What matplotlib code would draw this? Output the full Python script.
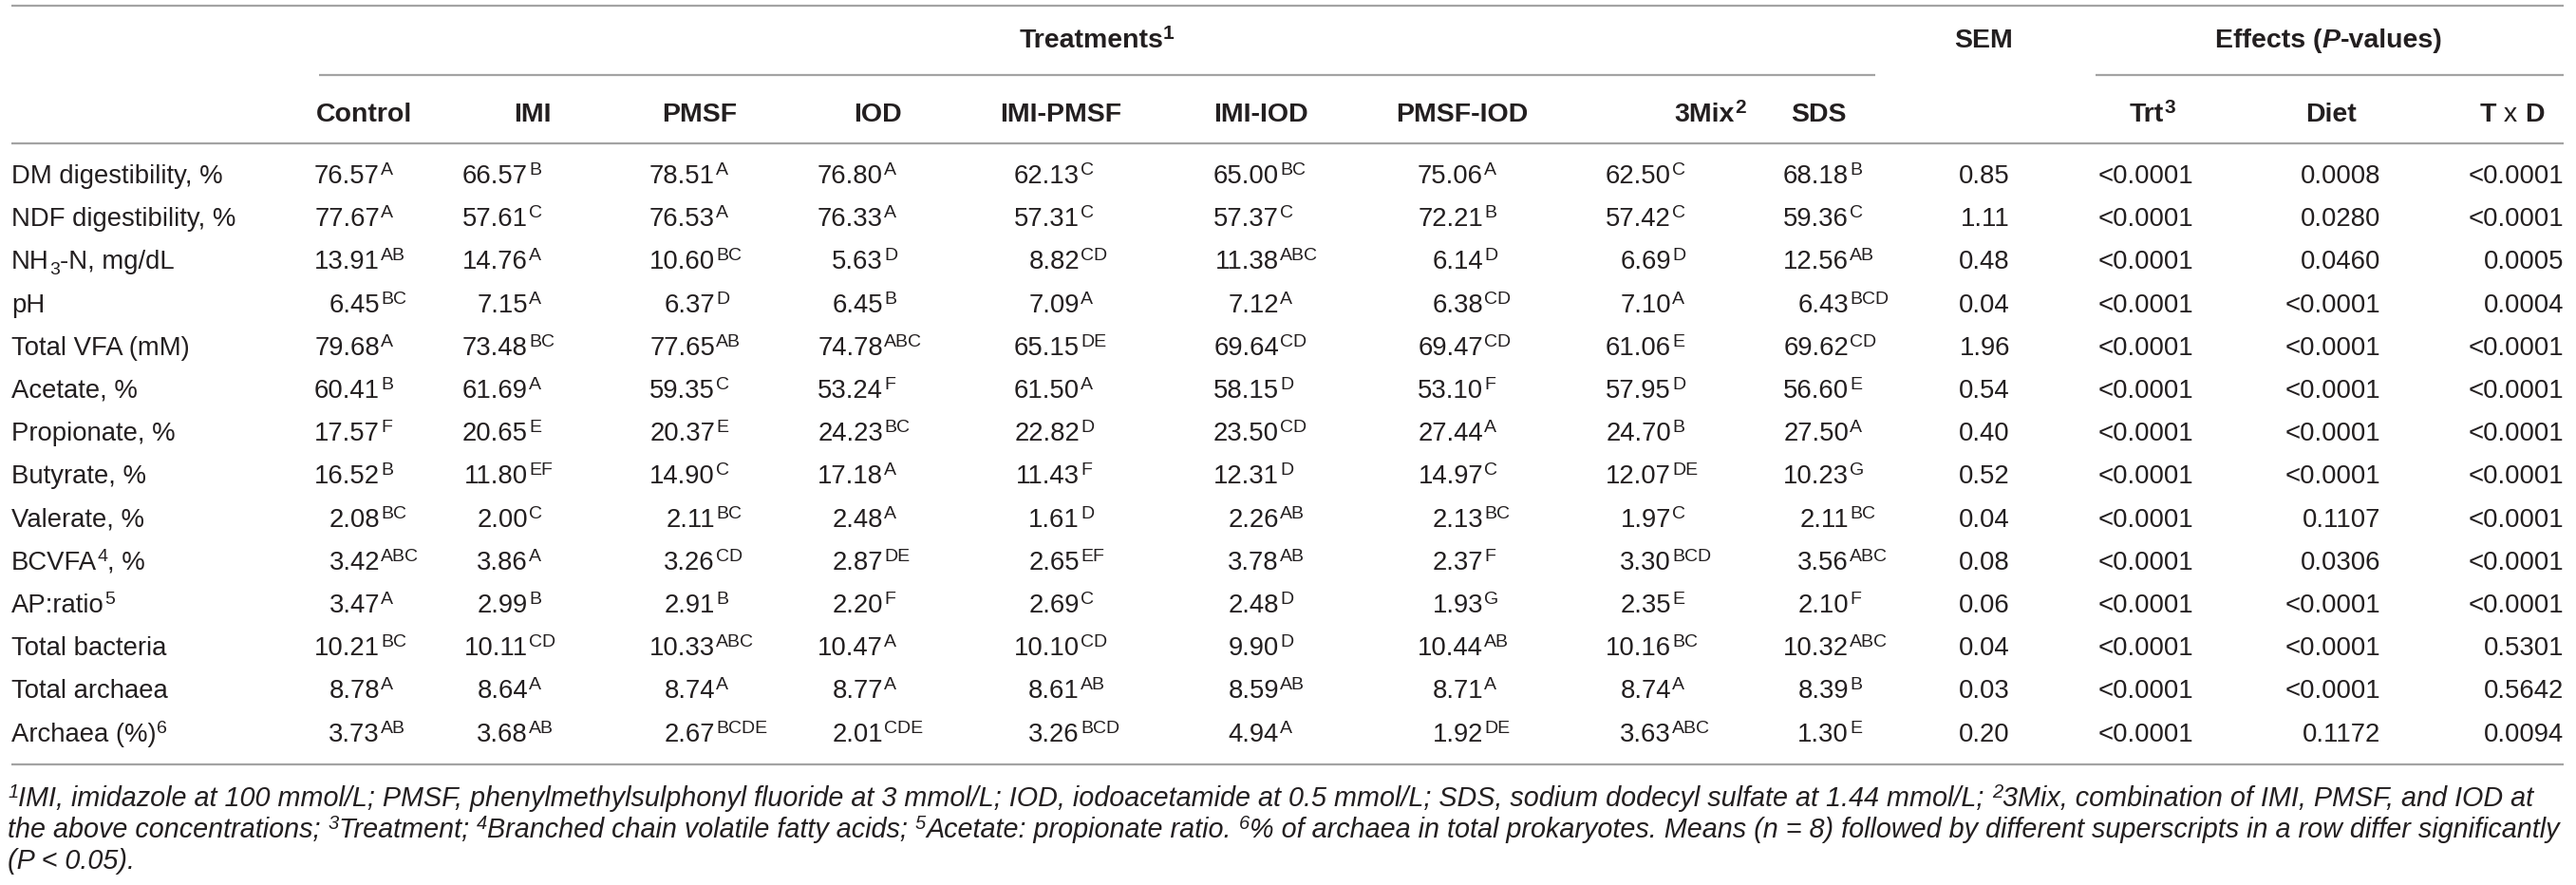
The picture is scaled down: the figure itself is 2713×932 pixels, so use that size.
import matplotlib
matplotlib.use('Agg')
import matplotlib.pyplot as plt

# ---------------- data ----------------
row_labels = [
    [("DM digestibility, %", "n")],
    [("NDF digestibility, %", "n")],
    [("NH", "n"), ("3", "sub"), ("-N, mg/dL", "n")],
    [("pH", "n")],
    [("Total VFA (mM)", "n")],
    [("Acetate, %", "n")],
    [("Propionate, %", "n")],
    [("Butyrate, %", "n")],
    [("Valerate, %", "n")],
    [("BCVFA", "n"), ("4", "sup"), (", %", "n")],
    [("AP:ratio", "n"), ("5", "sup")],
    [("Total bacteria", "n")],
    [("Total archaea", "n")],
    [("Archaea (%)", "n"), ("6", "sup")],
]

treatments = ["Control", "IMI", "PMSF", "IOD", "IMI-PMSF", "IMI-IOD", "PMSF-IOD", "3Mix", "SDS"]

control = [76.57, 77.67, 13.91, 6.45, 79.68, 60.41, 17.57, 16.52, 2.08, 3.42, 3.47, 10.21, 8.78, 3.73]
control_sig = ["A", "A", "AB", "BC", "A", "B", "F", "B", "BC", "ABC", "A", "BC", "A", "AB"]
imi = [66.57, 57.61, 14.76, 7.15, 73.48, 61.69, 20.65, 11.80, 2.00, 3.86, 2.99, 10.11, 8.64, 3.68]
imi_sig = ["B", "C", "A", "A", "BC", "A", "E", "EF", "C", "A", "B", "CD", "A", "AB"]
pmsf = [78.51, 76.53, 10.60, 6.37, 77.65, 59.35, 20.37, 14.90, 2.11, 3.26, 2.91, 10.33, 8.74, 2.67]
pmsf_sig = ["A", "A", "BC", "D", "AB", "C", "E", "C", "BC", "CD", "B", "ABC", "A", "BCDE"]
iod = [76.80, 76.33, 5.63, 6.45, 74.78, 53.24, 24.23, 17.18, 2.48, 2.87, 2.20, 10.47, 8.77, 2.01]
iod_sig = ["A", "A", "D", "B", "ABC", "F", "BC", "A", "A", "DE", "F", "A", "A", "CDE"]
imi_pmsf = [62.13, 57.31, 8.82, 7.09, 65.15, 61.50, 22.82, 11.43, 1.61, 2.65, 2.69, 10.10, 8.61, 3.26]
imi_pmsf_sig = ["C", "C", "CD", "A", "DE", "A", "D", "F", "D", "EF", "C", "CD", "AB", "BCD"]
imi_iod = [65.00, 57.37, 11.38, 7.12, 69.64, 58.15, 23.50, 12.31, 2.26, 3.78, 2.48, 9.90, 8.59, 4.94]
imi_iod_sig = ["BC", "C", "ABC", "A", "CD", "D", "CD", "D", "AB", "AB", "D", "D", "AB", "A"]
pmsf_iod = [75.06, 72.21, 6.14, 6.38, 69.47, 53.10, 27.44, 14.97, 2.13, 2.37, 1.93, 10.44, 8.71, 1.92]
pmsf_iod_sig = ["A", "B", "D", "CD", "CD", "F", "A", "C", "BC", "F", "G", "AB", "A", "DE"]
mix3 = [62.50, 57.42, 6.69, 7.10, 61.06, 57.95, 24.70, 12.07, 1.97, 3.30, 2.35, 10.16, 8.74, 3.63]
mix3_sig = ["C", "C", "D", "A", "E", "D", "B", "DE", "C", "BCD", "E", "BC", "A", "ABC"]
sds = [68.18, 59.36, 12.56, 6.43, 69.62, 56.60, 27.50, 10.23, 2.11, 3.56, 2.10, 10.32, 8.39, 1.30]
sds_sig = ["B", "C", "AB", "BCD", "CD", "E", "A", "G", "BC", "ABC", "F", "ABC", "B", "E"]

sem = [0.85, 1.11, 0.48, 0.04, 1.96, 0.54, 0.40, 0.52, 0.04, 0.08, 0.06, 0.04, 0.03, 0.20]
p_trt = ["<0.0001"] * 14
p_diet = ["0.0008", "0.0280", "0.0460", "<0.0001", "<0.0001", "<0.0001", "<0.0001", "<0.0001",
          "0.1107", "0.0306", "<0.0001", "<0.0001", "<0.0001", "0.1172"]
p_txd = ["<0.0001", "<0.0001", "0.0005", "0.0004", "<0.0001", "<0.0001", "<0.0001", "<0.0001",
         "<0.0001", "<0.0001", "<0.0001", "0.5301", "0.5642", "0.0094"]

means = [control, imi, pmsf, iod, imi_pmsf, imi_iod, pmsf_iod, mix3, sds]
sigs = [control_sig, imi_sig, pmsf_sig, iod_sig, imi_pmsf_sig, imi_iod_sig, pmsf_iod_sig, mix3_sig, sds_sig]

footnotes = [
    [("1", "sup"), ("IMI, imidazole at 100 mmol/L; PMSF, phenylmethylsulphonyl fluoride at 3 mmol/L; IOD, iodoacetamide at 0.5 mmol/L; SDS, sodium dodecyl sulfate at 1.44 mmol/L; ", "n"),
     ("2", "sup"), ("3Mix, combination of IMI, PMSF, and IOD at", "n")],
    [("the above concentrations; ", "n"), ("3", "sup"), ("Treatment; ", "n"), ("4", "sup"),
     ("Branched chain volatile fatty acids; ", "n"), ("5", "sup"), ("Acetate: propionate ratio. ", "n"),
     ("6", "sup"), ("% of archaea in total prokaryotes. Means (n = 8) followed by different superscripts in a row differ significantly", "n")],
    [("(P < 0.05).", "n")],
]

# ---------------- layout ----------------
W, H, DPI = 2713, 932, 100
fig = plt.figure(figsize=(W / DPI, H / DPI), dpi=DPI)
ax = fig.add_axes([0, 0, 1, 1])
ax.set_xlim(0, W)
ax.set_ylim(H, 0)
ax.axis('off')
renderer = fig.canvas.get_renderer()

FONT = 'Liberation Sans'
TXT = '#231f20'
LINE = '#a3a3a3'
FS = 19.8
HFS = 20.5
SUPFS = 14.0


def width_of(s, size, weight='normal', style='normal'):
    t = ax.text(0, 0, s, fontsize=size, family=FONT, weight=weight, style=style)
    w = t.get_window_extent(renderer).width
    t.remove()
    return w


def draw_runs(x, base, runs, size=FS, supsize=SUPFS, ha='left', weight='normal', style='normal',
              raise_px=9, sub_px=6):
    items = []
    total = 0.0
    for run in runs:
        s, kind = run[0], run[1]
        w8 = run[2] if len(run) > 2 else weight
        st = run[3] if len(run) > 3 else style
        sz = size if kind == 'n' else supsize
        w = width_of(s, sz, w8, st)
        items.append((s, kind, sz, w8, st, w))
        total += w
    if ha == 'center':
        x0 = x - total / 2
    elif ha == 'right':
        x0 = x - total
    else:
        x0 = x
    cx = x0
    for s, kind, sz, w8, st, w in items:
        yy = base
        if kind == 'sup':
            yy = base - raise_px
        elif kind == 'sub':
            yy = base + sub_px
        ax.text(cx, yy, s, fontsize=sz, family=FONT, weight=w8, style=st, color=TXT,
                ha='left', va='baseline')
        cx += w
    return total


# horizontal rules
XL, XR = 12, 2700
ax.plot([XL, XR], [6, 6], color=LINE, lw=1.6, solid_capstyle='butt')
ax.plot([336, 1975], [79, 79], color=LINE, lw=1.6, solid_capstyle='butt')
ax.plot([2207, XR], [79, 79], color=LINE, lw=1.6, solid_capstyle='butt')
ax.plot([XL, XR], [151, 151], color=LINE, lw=1.6, solid_capstyle='butt')
ax.plot([XL, XR], [805, 805], color=LINE, lw=1.6, solid_capstyle='butt')

# top header row
draw_runs(1155, 50, [("Treatments", "n"), ("1", "sup")], size=HFS, supsize=15, ha='center', weight='bold')
draw_runs(2089, 50, [("SEM", "n")], size=HFS, ha='center', weight='bold')
draw_runs(2453, 50, [("Effects (", "n"), ("P", "n", "bold", "italic"), ("-values)", "n")],
          size=HFS, ha='center', weight='bold')

# sub header row
head_x = [384, 561, 737, 924, 1117, 1328, 1540, 1801, 1915]
for name, hx in zip(treatments, head_x):
    runs = [(name, "n")]
    if name == "3Mix":
        runs.append(("2", "sup"))
    draw_runs(hx, 128, runs, size=HFS, supsize=15, ha='center', weight='bold')
draw_runs(2267, 128, [("Trt", "n"), ("3", "sup")], size=HFS, supsize=15, ha='center', weight='bold')
draw_runs(2455, 128, [("Diet", "n")], size=HFS, ha='center', weight='bold')
draw_runs(2646, 128, [("T", "n"), (" x ", "n", "normal"), ("D", "n")], size=HFS, ha='center', weight='bold')

# body
num_right = [400, 556, 753, 930, 1137, 1347, 1562, 1760, 1947]
SEM_R = 2117
P_R = [2310, 2507, 2700]
B0, STEP = 193, 45.2
for i, lab in enumerate(row_labels):
    base = B0 + i * STEP
    draw_runs(XL, base, lab, size=FS, supsize=SUPFS)
    for vals, sg, xr in zip(means, sigs, num_right):
        ax.text(xr, base, f"{vals[i]:.2f}", fontsize=FS, family=FONT, color=TXT, ha='right', va='baseline')
        ax.text(xr + 1, base - 9, sg[i], fontsize=SUPFS, family=FONT, color=TXT, ha='left', va='baseline')
    ax.text(SEM_R, base, f"{sem[i]:.2f}", fontsize=FS, family=FONT, color=TXT, ha='right', va='baseline')
    for col, xr in zip([p_trt, p_diet, p_txd], P_R):
        ax.text(xr, base, col[i], fontsize=FS, family=FONT, color=TXT, ha='right', va='baseline')

# footnotes (italic), size fitted so the longest line fits the table width
ref = 20.0


def line_width(runs, size):
    return sum(width_of(r[0], size if r[1] == 'n' else size * 0.7, 'normal', 'italic') for r in runs)


w1 = line_width(footnotes[0], ref)
w2 = line_width(footnotes[1], ref)
FFS = ref * min((2697 - 8) / w1, (2692 - 8) / w2)
fbase = [849, 882, 915]
for runs, fb in zip(footnotes, fbase):
    draw_runs(8, fb, runs, size=FFS, supsize=FFS * 0.7, style='italic', raise_px=9)

fig.savefig('out.png', dpi=DPI)
